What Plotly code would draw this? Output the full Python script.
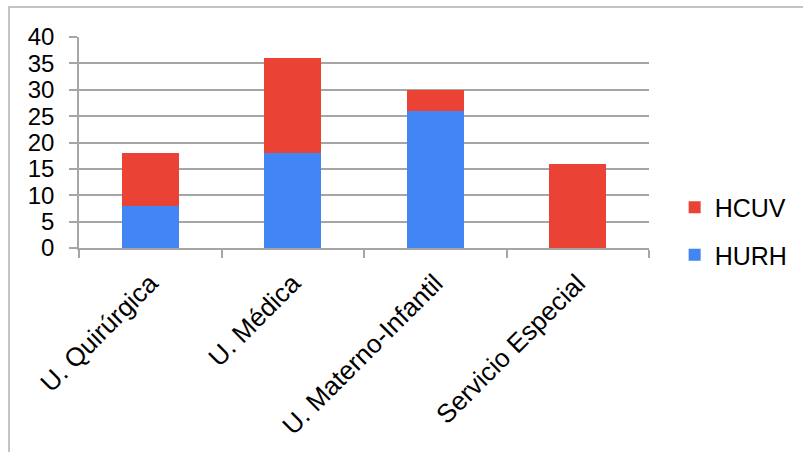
import plotly.graph_objects as go

categories = ["U. Quirúrgica", "U. Médica", "U. Materno-Infantil", "Servicio Especial"]
hurh = [8, 18, 26, 0]
hcuv = [10, 18, 4, 16]
y_ticks = [0, 5, 10, 15, 20, 25, 30, 35, 40]

BLUE = "#4285F4"
RED = "#EA4335"
GRID = "#a6a6a6"
FONT = "Liberation Sans, Arial, sans-serif"

fig = go.Figure()
fig.add_trace(go.Bar(x=categories, y=hurh, name="HURH", marker=dict(color=BLUE, line=dict(width=0)),
                     legendgroup="b", legendrank=2))
fig.add_trace(go.Bar(x=categories, y=hcuv, name="HCUV", marker=dict(color=RED, line=dict(width=0)),
                     legendgroup="a", legendrank=1))

fig.update_layout(
    width=803, height=452,
    margin=dict(l=79, r=154, t=37, b=204, autoexpand=False),
    paper_bgcolor="white", plot_bgcolor="white",
    barmode="stack", bargap=0.6,
    font=dict(family=FONT, size=24, color="black"),
    legend=dict(x=1.045, y=0.08, xanchor="left", yanchor="middle",
                traceorder="grouped", tracegroupgap=12,
                itemwidth=30, font=dict(size=25)),
    xaxis=dict(showline=True, linecolor=GRID, linewidth=1.5, ticks="outside",
               tickson="boundaries", ticklen=8, tickcolor=GRID, tickwidth=1.5,
               tickangle=-45, showgrid=False, tickfont=dict(size=26),
               ticklabelstandoff=8),
    yaxis=dict(range=[0, 40], tickvals=y_ticks, showline=True, linecolor=GRID,
               linewidth=1.5, ticks="outside", ticklen=8, tickcolor=GRID, tickwidth=1.5,
               showgrid=True, gridcolor=GRID, gridwidth=1.5, zeroline=False,
               tickfont=dict(size=24), ticklabelstandoff=10),
    shapes=[dict(type="rect", xref="paper", yref="paper",
                 x0=-0.1228, x1=1.5, y0=-1.5, y1=1.142,
                 line=dict(color="#b0b0b0", width=1.5), layer="below")],
)

fig.write_html("out.html")
